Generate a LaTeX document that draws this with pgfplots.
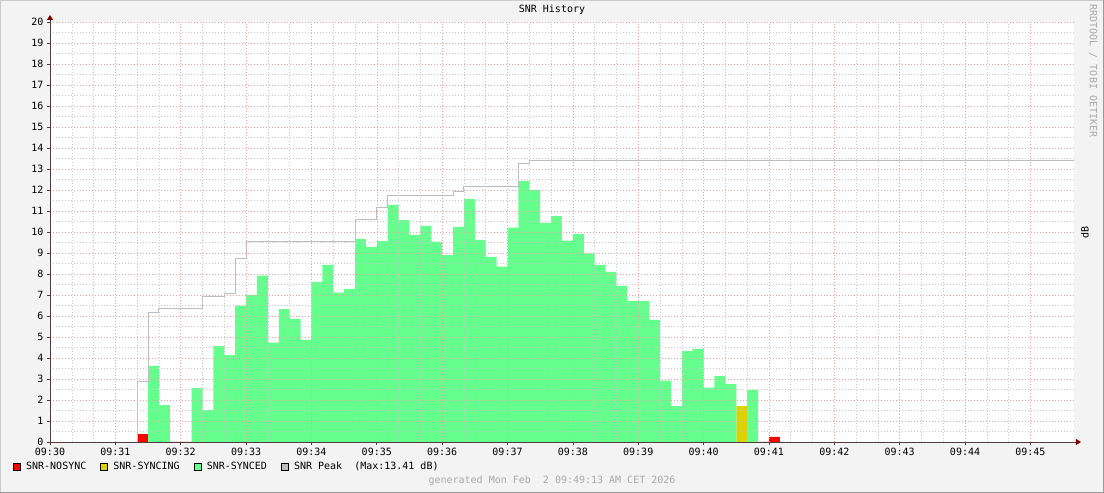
\documentclass[border=0pt]{standalone}
\usepackage{fontspec}
\setmainfont{DejaVu Sans Mono}
\setmonofont{DejaVu Sans Mono}
\usepackage{pgfplots}
\pgfplotsset{compat=1.18}
\usetikzlibrary{arrows.meta}
\definecolor{bgcol}{RGB}{243,243,243}
\definecolor{shadea}{RGB}{203,203,203}
\definecolor{shadeb}{RGB}{153,153,153}
\definecolor{gridred}{RGB}{238,160,160}
\definecolor{gridgray}{RGB}{200,200,200}
\definecolor{axiscol}{RGB}{80,60,60}
\definecolor{arrowred}{RGB}{127,0,0}
\definecolor{nosync}{RGB}{255,0,0}
\definecolor{syncing}{RGB}{221,210,0}
\definecolor{synced}{RGB}{100,255,140}
\definecolor{peakgray}{RGB}{190,190,190}
\definecolor{wmark}{RGB}{170,170,170}
\begin{document}
\begin{tikzpicture}[x=1pt,y=1pt,font=\fontsize{10}{12}\selectfont]
\useasboundingbox (0,0) rectangle (1104,493);
\fill[bgcol] (0,0) rectangle (1104,493);
\draw[shadea, line width=2pt] (0,0) -- (0,493) -- (1104,493);
\draw[shadeb, line width=2pt] (0,0) -- (1104,0) -- (1104,493);
\begin{axis}[
  at={(50pt,51pt)}, anchor=south west,
  scale only axis, width=1024pt, height=420pt,
  xmin=0, xmax=940, ymin=0, ymax=20,
  axis background/.style={fill=white},
  axis x line=bottom, axis y line=left,
  axis line style={draw=axiscol, line width=0.8pt, -{Triangle[length=5pt,width=6pt,color=arrowred]}, shorten >=-7pt},
  axis on top,
  tick align=outside,
  major tick length=3pt, minor tick length=0pt,
  every tick/.style={draw=axiscol, line width=0.6pt},
  xtick={0,60,...,900},
  xticklabels={09:30,09:31,09:32,09:33,09:34,09:35,09:36,09:37,09:38,09:39,09:40,09:41,09:42,09:43,09:44,09:45},
  minor x tick num=2,
  ytick={0,1,...,20},
  minor y tick num=1,
  /pgf/number format/assume math mode=true,
  tick label style={font=\fontsize{10}{12}\selectfont},
  grid=both,
  major grid style={draw=gridred, line width=0.55pt, dash pattern=on 1pt off 2pt},
  minor grid style={draw=gridgray, line width=0.55pt, dash pattern=on 1pt off 2pt},
  title={SNR History},
  title style={at={(0.5,1)}, anchor=center, xshift=-10pt, yshift=6pt},
  ylabel={dB},
  every axis y label/.style={at={(axis description cs:1.0107,0.5)}, rotate=90, anchor=center},
  legend columns=-1,
  legend cell align=left,
  legend style={draw=none, fill=none, inner sep=0pt, outer sep=0pt,
    at={(axis description cs:-0.0361,-0.0583)}, anchor=west,
    nodes={inner sep=0pt, font=\fontsize{10}{12}\selectfont},
    /tikz/every odd column/.append style={column sep=5.5pt},
    /tikz/every even column/.append style={column sep=14pt}},
]
\addplot[const plot, fill=nosync, draw=none,
  legend image code/.code={\draw[draw=black, fill=nosync, line width=0.6pt] (0pt,-3.5pt) rectangle (7pt,3.5pt);}]
  coordinates {(80,0.38) (90,0) (660,0.24) (670,0)} \closedcycle;
\addlegendentry{SNR-NOSYNC}
\addplot[const plot, fill=syncing, draw=none,
  legend image code/.code={\draw[draw=black, fill=syncing, line width=0.6pt] (0pt,-3.5pt) rectangle (7pt,3.5pt);}]
  coordinates {(630,1.71) (640,0)} \closedcycle;
\addlegendentry{SNR-SYNCING}
\addplot[const plot, fill=synced, draw=none,
  legend image code/.code={\draw[draw=black, fill=synced, line width=0.6pt] (0pt,-3.5pt) rectangle (7pt,3.5pt);}]
  coordinates {
  (90,3.62) (100,1.76) (110,0) (130,2.56) (140,1.52) (150,4.57) (160,4.14)
  (170,6.49) (180,7.0) (190,7.92) (200,4.73) (210,6.33) (220,5.86) (230,4.86)
  (240,7.62) (250,8.43) (260,7.11) (270,7.29) (280,9.67) (290,9.29) (300,9.57)
  (310,11.29) (320,10.57) (330,9.86) (340,10.29) (350,9.54) (360,8.9) (370,10.24)
  (380,11.56) (390,9.62) (400,8.81) (410,8.35) (420,10.21) (430,12.43) (440,12.0)
  (450,10.44) (460,10.76) (470,9.59) (480,9.9) (490,8.98) (500,8.43) (510,8.1)
  (520,7.43) (530,6.71) (540,6.71) (550,5.81) (560,2.92) (570,1.71) (580,4.33)
  (590,4.43) (600,2.59) (610,3.14) (620,2.76) (630,0) (640,2.48) (650,0)} \closedcycle;
\addlegendentry{SNR-SYNCED}
\addplot[const plot, draw=peakgray, line width=1pt,
  legend image code/.code={\draw[draw=black, fill=peakgray, line width=0.6pt] (0pt,-3.5pt) rectangle (7pt,3.5pt);}]
  coordinates {
  (80,0) (80,2.87) (90,6.15) (100,6.37) (140,6.92) (160,7.08) (170,8.75)
  (180,9.57) (280,10.6) (300,11.17) (310,11.76) (370,11.93) (380,12.19)
  (430,13.27) (440,13.41) (940,13.41)};
\addlegendentry{SNR Peak\ \ (Max:13.41 dB)}
\end{axis}
\node[rotate=-90, text=wmark] at (1093,422) {RRDTOOL / TOBI OETIKER};
\node[text=wmark] at (552,12) {generated Mon Feb\ \ 2 09:49:13 AM CET 2026};
\end{tikzpicture}
\end{document}
